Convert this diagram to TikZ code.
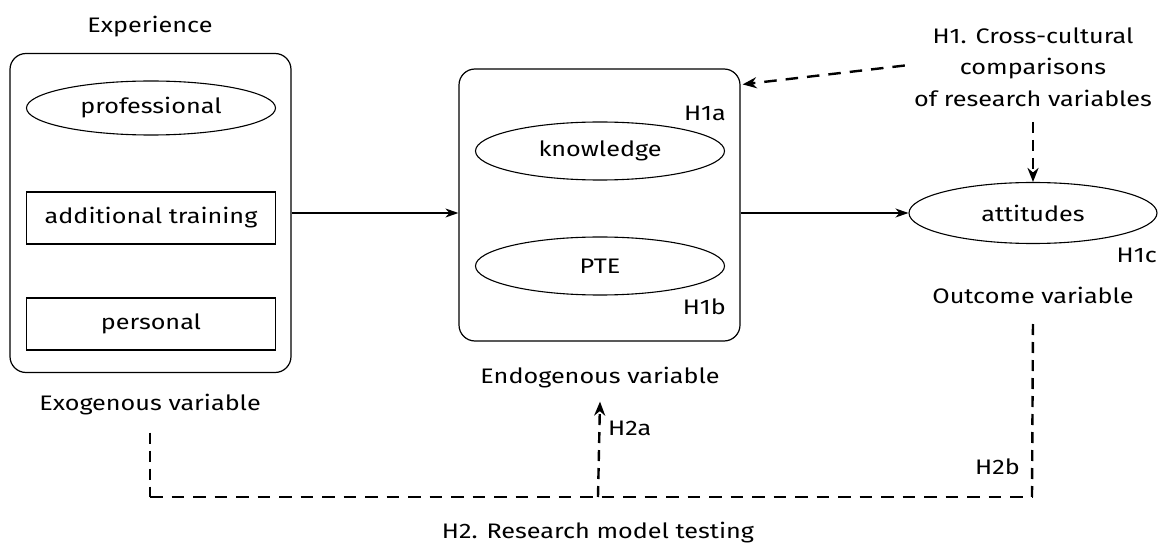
\documentclass[tikz,border=0pt]{standalone}
\usepackage{fontspec}
\usepackage{graphicx}
\setmainfont{Fira Sans}
\usetikzlibrary{arrows.meta,shapes.geometric}
\newcommand{\wide}[1]{\scalebox{1.2}[1]{#1}}
\tikzset{
  bigbox/.style={draw, rounded corners=16pt, line width=1.2pt},
  ell/.style={draw, ellipse, line width=1.1pt, minimum width=249pt, minimum height=58pt, inner sep=0pt},
  rectbox/.style={draw, rectangle, line width=1.1pt, minimum width=249pt, minimum height=52pt, inner sep=0pt},
  lbl/.style={inner sep=0pt},
  solidarr/.style={line width=1.2pt, -{Stealth[length=13pt,width=9pt,inset=4pt]}},
  dshv/.style={line width=2.4pt, dash pattern=on 11pt off 7pt},
  dshh/.style={line width=2.4pt, dash pattern=on 12.5pt off 9pt},
  tip/.style={-{Stealth[length=14pt,width=11pt,inset=4.5pt]}},
}
\begin{document}
\fontsize{21pt}{31.5pt}\selectfont
\begin{tikzpicture}[x=1pt,y=-1pt]
\useasboundingbox (0,0) rectangle (1160,545);
% left block
\node[lbl] (explab) at (150,27) {\wide{Experience}};
\node[bigbox, minimum width=281pt, minimum height=319pt] (exo) at (150.5,213) {};
\node[ell, minimum height=54pt] (prof) at (151,108) {\wide{professional}};
\node[rectbox] (addt) at (151,218) {\wide{additional training}};
\node[rectbox] (pers) at (151,324) {\wide{personal}};
\node[lbl] (exolab) at (150,405) {\wide{Exogenous variable}};
% middle block
\node[bigbox, minimum width=281pt, minimum height=272pt] (endo) at (599.5,205) {};
\node[ell] (know) at (600,151) {\wide{knowledge}};
\node[ell] (pte) at (600,266) {\wide{PTE}};
\node[lbl, anchor=east] (h1a) at (726,113) {\wide{H1a}};
\node[lbl, anchor=east] (h1b) at (726,307) {\wide{H1b}};
\node[lbl] (endolab) at (600,378) {\wide{Endogenous variable}};
% right block
\node[ell, minimum width=248pt, minimum height=61pt] (att) at (1033,213) {\wide{attitudes}};
\node[lbl, anchor=east] (h1c) at (1157,255) {\wide{H1c}};
\node[lbl] (outlab) at (1033,295) {\wide{Outcome variable}};
\node[lbl] (h1) at (1033,68.5) {\wide{\begin{tabular}{@{}c@{}}H1. Cross-cultural\\comparisons\\of research variables\end{tabular}}};
% bottom
\node[lbl, anchor=west] (h2a) at (608,428) {\wide{H2a}};
\node[lbl, anchor=east] (h2b) at (1020,467) {\wide{H2b}};
\node[lbl] (h2) at (598,533) {\wide{H2. Research model testing}};
\coordinate (bl) at (150,497);
\coordinate (bm) at (598,497);
\coordinate (br) at (1032,497);
% connectors
\draw[solidarr] (exo.east) -- (exo.east -| endo.west);
\draw[solidarr] (exo.east -| endo.east) -- (att.west);
\draw[dshh, tip] ([xshift=-9pt,yshift=3pt]h1.west) -- ([xshift=2pt,yshift=-16pt]endo.north east);
\draw[dshv, tip] ([yshift=-6pt]h1.south) -- (att.north);
\draw[dshv] ([yshift=-17pt]exolab.south) -- (bl);
\draw[dshh] (bl) -- (br);
\draw[dshv] (br) -- ([yshift=-15pt]outlab.south);
\draw[dshv, tip] (bm) -- ([yshift=-13pt]endolab.south);
\end{tikzpicture}
\end{document}
